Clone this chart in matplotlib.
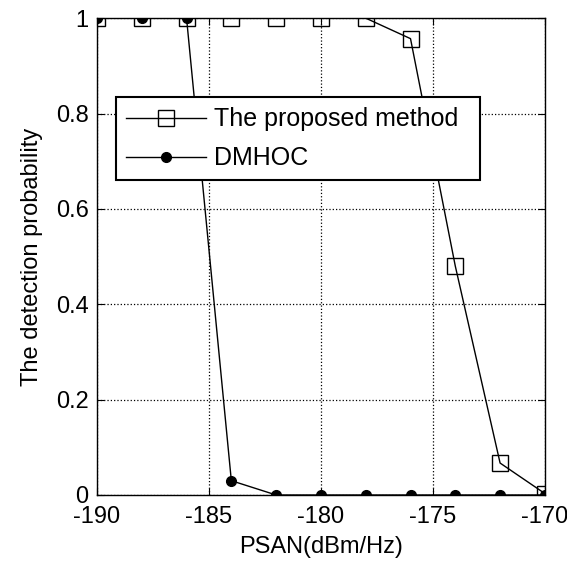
import matplotlib.pyplot as plt
import numpy as np

plt.rcParams['font.family'] = ['Liberation Sans', 'DejaVu Sans']
plt.rcParams['axes.unicode_minus'] = False

psan = [-190, -188, -186, -184, -182, -180, -178, -176, -174, -172, -170]
proposed = [1, 1, 1, 1, 1, 1, 1, 0.957, 0.48, 0.067, 0.003]
dmhoc = [1, 1, 1, 0.03, 0, 0, 0, 0, 0, 0, 0]

fig = plt.figure(figsize=(5.67, 5.67), dpi=100)
ax = fig.add_axes([0.171, 0.127, 0.79, 0.841])

ax.plot(psan, proposed, color='black', linewidth=1, marker='s', markersize=12,
        markerfacecolor='none', markeredgecolor='black', label='The proposed method')
ax.plot(psan, dmhoc, color='black', linewidth=1, marker='o', markersize=7,
        markerfacecolor='black', label='DMHOC')

ax.set_xlim(-190, -170)
ax.set_ylim(0, 1)
ax.set_xticks([-190, -185, -180, -175, -170])
ax.set_yticks([0, 0.2, 0.4, 0.6, 0.8, 1])
ax.set_yticklabels(['0', '0.2', '0.4', '0.6', '0.8', '1'])
ax.grid(True, color='black', linestyle=':', linewidth=0.9)
ax.tick_params(direction='in', labelsize=17, top=True, right=True, length=5)
ax.tick_params(axis='x', pad=8)
ax.tick_params(axis='y', pad=6)
for s in ax.spines.values():
    s.set_linewidth(1)

ax.set_xlabel('PSAN(dBm/Hz)', fontsize=17, labelpad=6)
ax.set_ylabel('The detection probability', fontsize=17, labelpad=9)

leg = ax.legend(loc='upper left', bbox_to_anchor=(0.042, 0.658, 0.8125, 0.176),
                mode='expand', fontsize=18, fancybox=False, framealpha=1,
                edgecolor='black', handlelength=3.2, handletextpad=0.32,
                borderaxespad=0, labelspacing=0.6, borderpad=0.4)
leg.get_frame().set_linewidth(1.5)

plt.savefig('out.png', dpi=100)
